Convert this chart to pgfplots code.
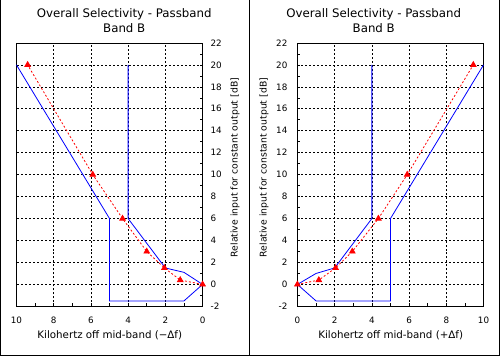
\documentclass[border=0pt]{standalone}
\usepackage{pgfplots}
\pgfplotsset{compat=1.18}
\usepackage{fontspec}
\setmainfont{DejaVu Sans}
\begin{document}
\begin{tikzpicture}[x=1pt,y=1pt]
\path (0,0) rectangle (500,356);
\draw[black, line width=1pt] (0.5,0) -- (0.5,356);
\draw[black, line width=1pt] (249.5,0) -- (249.5,356);
\draw[black, line width=1pt] (499.5,0) -- (499.5,356);
\draw[black, line width=1pt] (0,0.5) -- (500,0.5);
\pgfplotsset{myax/.style={
  scale only axis, width=186.5pt, height=264pt,
  xmin=0, xmax=10, ymin=-2, ymax=22,
  xtick={0,2,...,10}, ytick={-2,0,...,22},
  minor xtick={1,3,...,9}, minor ytick={-1,1,...,21},
  grid=major,
  major grid style={black, dash pattern=on 2pt off 2pt, line width=0.6pt},
  tick align=inside, major tick length=3pt, minor tick length=3pt,
  axis line style={black, line width=0.8pt},
  tick style={black, line width=0.6pt},
  ticklabel style={font=\fontsize{8.8}{10}\selectfont},
  xticklabel style={yshift=-7pt},
  /pgf/number format/assume math mode=true,
  clip=false,
  xtick pos=left,
}}
\pgfplotsset{bl/.style={blue, line width=0.8pt, no marks}, rd/.style={red, line width=0.8pt, dash pattern=on 2pt off 2pt, mark=triangle*, mark size=3.2pt, mark options={solid, fill=red, draw=red}}}
% left panel
\begin{axis}[myax, x dir=reverse, at={(16pt,49.5pt)}, anchor=south west,
  ytick pos=right, yticklabel pos=right,
  yticklabel style={anchor=west, xshift=4.5pt}]
\addplot[bl] coordinates {(4,20) (4,6) (2,1.5) (1,1.1) (0,0) (1,-1.5) (5,-1.5) (5,6) (10,20)};
\addplot[rd] coordinates {(0,0) (1.2,0.4) (2.05,1.5) (3,3) (4.3,6) (5.9,10) (9.4,20)};
\end{axis}
% right panel
\begin{axis}[myax, at={(297.5pt,49.5pt)}, anchor=south west,
  ytick pos=left, yticklabel pos=left,
  yticklabel style={anchor=east, xshift=-6.5pt}]
\addplot[bl] coordinates {(4,20) (4,6) (2,1.5) (1,1) (0,0) (1,-1.5) (5,-1.5) (5,6) (10,20)};
\addplot[rd] coordinates {(0,0) (1.15,0.4) (2.05,1.5) (2.95,3) (4.35,6) (5.9,10) (9.45,20)};
\end{axis}
\node[font=\fontsize{11.8}{13}\selectfont] at (124,342) {Overall Selectivity - Passband};
\node[font=\fontsize{11.8}{13}\selectfont] at (124,328.5) {Band B};
\node[font=\fontsize{11.8}{13}\selectfont] at (374,342) {Overall Selectivity - Passband};
\node[font=\fontsize{11.8}{13}\selectfont] at (374,328.5) {Band B};
\node[font=\fontsize{10.3}{12}\selectfont] at (109.5,21) {Kilohertz off mid-band (−Δf)};
\node[font=\fontsize{10.3}{12}\selectfont] at (391,21) {Kilohertz off mid-band (+Δf)};
\node[font=\fontsize{9.3}{11}\selectfont, rotate=90] at (235,188.5) {Relative input for constant output [dB]};
\node[font=\fontsize{9.3}{11}\selectfont, rotate=90] at (264,188.5) {Relative input for constant output [dB]};
\end{tikzpicture}
\end{document}
